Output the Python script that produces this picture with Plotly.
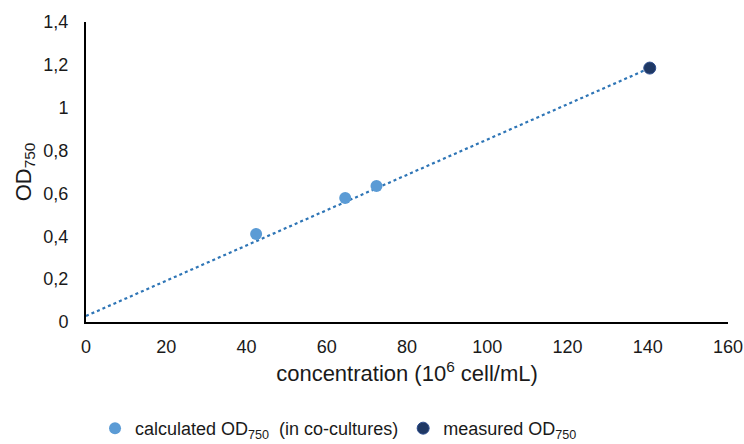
import plotly.graph_objects as go

calc_x = [42.4, 64.6, 72.4]
calc_y = [0.411, 0.579, 0.635]
meas_x = [140.5]
meas_y = [1.185]
trend_x = [0, 140.5]
trend_y = [0.028, 1.185]

y_ticks = [0, 0.2, 0.4, 0.6, 0.8, 1.0, 1.2, 1.4]
y_tick_text = ["0", "0,2", "0,4", "0,6", "0,8", "1", "1,2", "1,4"]
x_ticks = [0, 20, 40, 60, 80, 100, 120, 140, 160]

fig = go.Figure()
fig.add_trace(go.Scatter(x=trend_x, y=trend_y, mode="lines",
                         line=dict(color="#2E75B6", width=2.2, dash="dot"),
                         showlegend=False, hoverinfo="skip"))
fig.add_trace(go.Scatter(x=calc_x, y=calc_y, mode="markers",
                         name="calculated OD<sub>750</sub>  (in co-cultures)",
                         marker=dict(color="#5B9BD5", size=12)))
fig.add_trace(go.Scatter(x=meas_x, y=meas_y, mode="markers",
                         name="measured OD<sub>750</sub>",
                         marker=dict(color="#1F3864", size=12,
                                     line=dict(color="#2F4F8F", width=1))))

fig.update_layout(
    width=744, height=444,
    margin=dict(l=86, r=16, t=22, b=122, autoexpand=False),
    paper_bgcolor="white", plot_bgcolor="white",
    font=dict(family="Liberation Sans, Arial, sans-serif", size=18, color="#1a1a1a"),
    legend=dict(orientation="h", xref="container", yref="container",
                x=0.455, xanchor="center", y=0.035, yanchor="middle",
                font=dict(size=18), itemwidth=30, tracegroupgap=0),
    xaxis=dict(range=[0, 160], tickvals=x_ticks, showgrid=False, zeroline=False,
               showline=True, linecolor="black", linewidth=2, ticks="",
               ticklabelstandoff=7,
               title=dict(text="concentration (10<sup>6</sup> cell/mL)", standoff=10),
               fixedrange=True, automargin=False),
    yaxis=dict(range=[0, 1.4], tickvals=y_ticks, ticktext=y_tick_text, showgrid=False,
               zeroline=False, showline=True, linecolor="black", linewidth=2, ticks="",
               ticklabelstandoff=12,
               title=dict(text="OD<sub>750</sub>", standoff=6),
               fixedrange=True, automargin=False),
)

fig.write_html("out.html")
